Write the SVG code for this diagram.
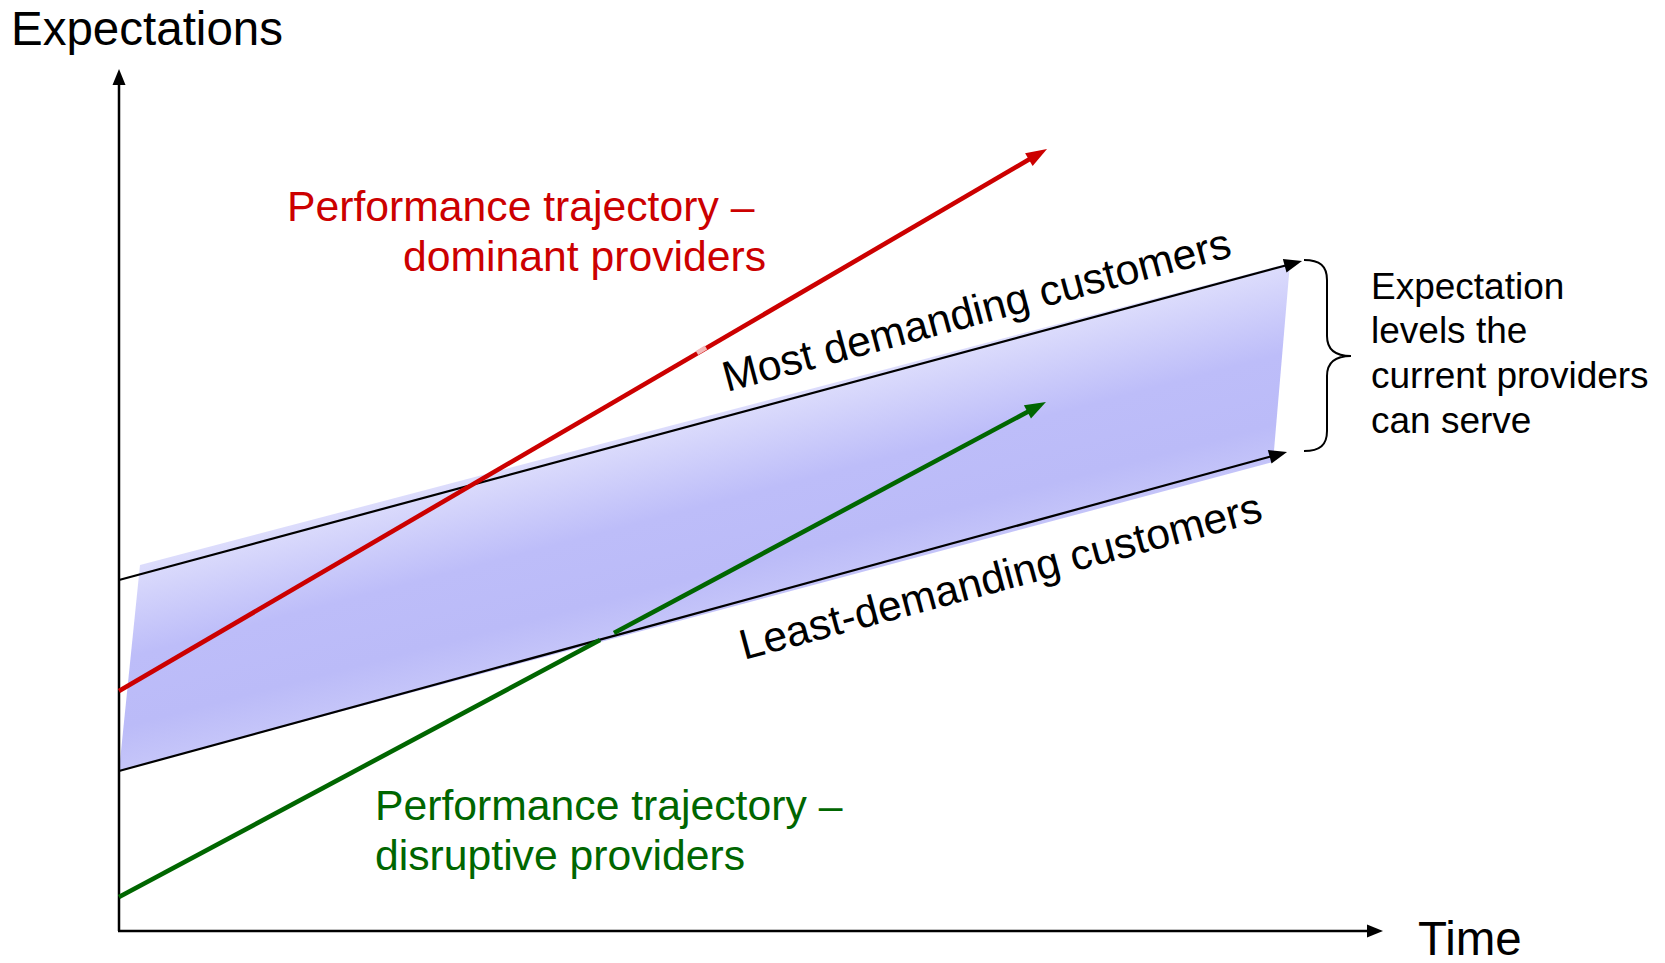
<svg xmlns="http://www.w3.org/2000/svg" width="1665" height="963" viewBox="0 0 1665 963">
  <style>
    text { font-family: "Liberation Sans", Arial, sans-serif; }
    .axis-label { font-size: 47.5px; fill: #000; }
    .red-label { font-size: 42.7px; fill: #cc0000; }
    .green-label { font-size: 42.7px; fill: #006600; }
    .band-label { font-size: 42.7px; fill: #000; }
    .note { font-size: 37px; fill: #000; }
    .axis { stroke: #000; stroke-width: 2.5; fill: none; }
    .bound { stroke: #000; stroke-width: 2.2; fill: none; }
    .dominant { stroke: #cc0000; stroke-width: 4.6; fill: none; }
    .disruptive { stroke: #006600; stroke-width: 4.6; fill: none; }
    .brace { stroke: #000; stroke-width: 2; fill: none; }
  </style>
  <defs>
    <linearGradient id="bandFill" gradientUnits="userSpaceOnUse" x1="600" y1="440" x2="651" y2="634">
      <stop offset="0" stop-color="#dedefc"/>
      <stop offset="0.45" stop-color="#bdbdf9"/>
      <stop offset="0.78" stop-color="#bbbbf8"/>
      <stop offset="1" stop-color="#c6c6f9"/>
    </linearGradient>
    <marker id="headAxis" markerUnits="userSpaceOnUse" markerWidth="20" markerHeight="20" refX="0" refY="0" orient="auto" overflow="visible">
      <path d="M-2,-6.5 L14,0 L-2,6.5 z" fill="#000"/>
    </marker>
    <marker id="headBound" markerUnits="userSpaceOnUse" markerWidth="20" markerHeight="20" refX="0" refY="0" orient="auto" overflow="visible">
      <path d="M-2,-7 L16,0 L-2,7 z" fill="#000"/>
    </marker>
    <marker id="headRed" markerUnits="userSpaceOnUse" markerWidth="24" markerHeight="24" refX="0" refY="0" orient="auto" overflow="visible">
      <path d="M-2,-7.5 L19,0 L-2,7.5 z" fill="#cc0000"/>
    </marker>
    <marker id="headGreen" markerUnits="userSpaceOnUse" markerWidth="24" markerHeight="24" refX="0" refY="0" orient="auto" overflow="visible">
      <path d="M-2,-7.5 L19,0 L-2,7.5 z" fill="#006600"/>
    </marker>
  </defs>

  <rect width="1665" height="963" fill="#fff"/>

  <!-- band of expectation levels served -->
  <g id="band">
    <polygon points="140,565 1290,263 1273,462 119,771" fill="url(#bandFill)"/>
  </g>

  <g id="connectors">
    <!-- axes -->
    <line class="axis" x1="119" y1="931" x2="119" y2="83" marker-end="url(#headAxis)"/>
    <line class="axis" x1="118" y1="931" x2="1369" y2="931" marker-end="url(#headAxis)"/>
    <!-- customer demand bounds -->
    <line id="most-demanding" class="bound" x1="119" y1="580" x2="1286.6" y2="265.2" marker-end="url(#headBound)"/>
    <line id="least-demanding" class="bound" x1="119" y1="771" x2="1271.6" y2="456.2" marker-end="url(#headBound)"/>
    <!-- performance trajectories -->
    <line id="dominant-trajectory" class="dominant" x1="119" y1="691" x2="1030.6" y2="158.6" marker-end="url(#headRed)"/>
    <line x1="697" y1="353" x2="706" y2="347.5" stroke="#f4b8b8" stroke-width="4.6"/>
    <line id="disruptive-trajectory-low" class="disruptive" x1="119" y1="897" x2="600" y2="640"/>
    <line id="disruptive-trajectory-high" class="disruptive" x1="614" y1="633" x2="1029.2" y2="411" marker-end="url(#headGreen)"/>
    <!-- brace spanning both bounds -->
    <path class="brace" d="M1304,260 C1320,260 1327,266 1327,280 L1327,336 C1327,350 1336,356 1351,356 C1336,356 1327,362 1327,376 L1327,431 C1327,445 1320,451 1304,451"/>
  </g>

  <g id="axis-labels">
    <text class="axis-label" x="11" y="45">Expectations</text>
    <text class="axis-label" x="1418" y="955">Time</text>
  </g>

  <g id="dominant-label">
    <text class="red-label" x="287" y="221">Performance trajectory –</text>
    <text class="red-label" x="403" y="271">dominant providers</text>
  </g>

  <g id="disruptive-label">
    <text class="green-label" x="375" y="820">Performance trajectory –</text>
    <text class="green-label" x="375" y="870">disruptive providers</text>
  </g>

  <g id="bound-labels">
    <text class="band-label" transform="translate(727,392) rotate(-15)">Most demanding customers</text>
    <text class="band-label" transform="translate(744,660) rotate(-15)">Least-demanding customers</text>
  </g>

  <g id="range-note">
    <text class="note" x="1371" y="299">Expectation</text>
    <text class="note" x="1371" y="343">levels the</text>
    <text class="note" x="1371" y="388">current providers</text>
    <text class="note" x="1371" y="433">can serve</text>
  </g>
</svg>
